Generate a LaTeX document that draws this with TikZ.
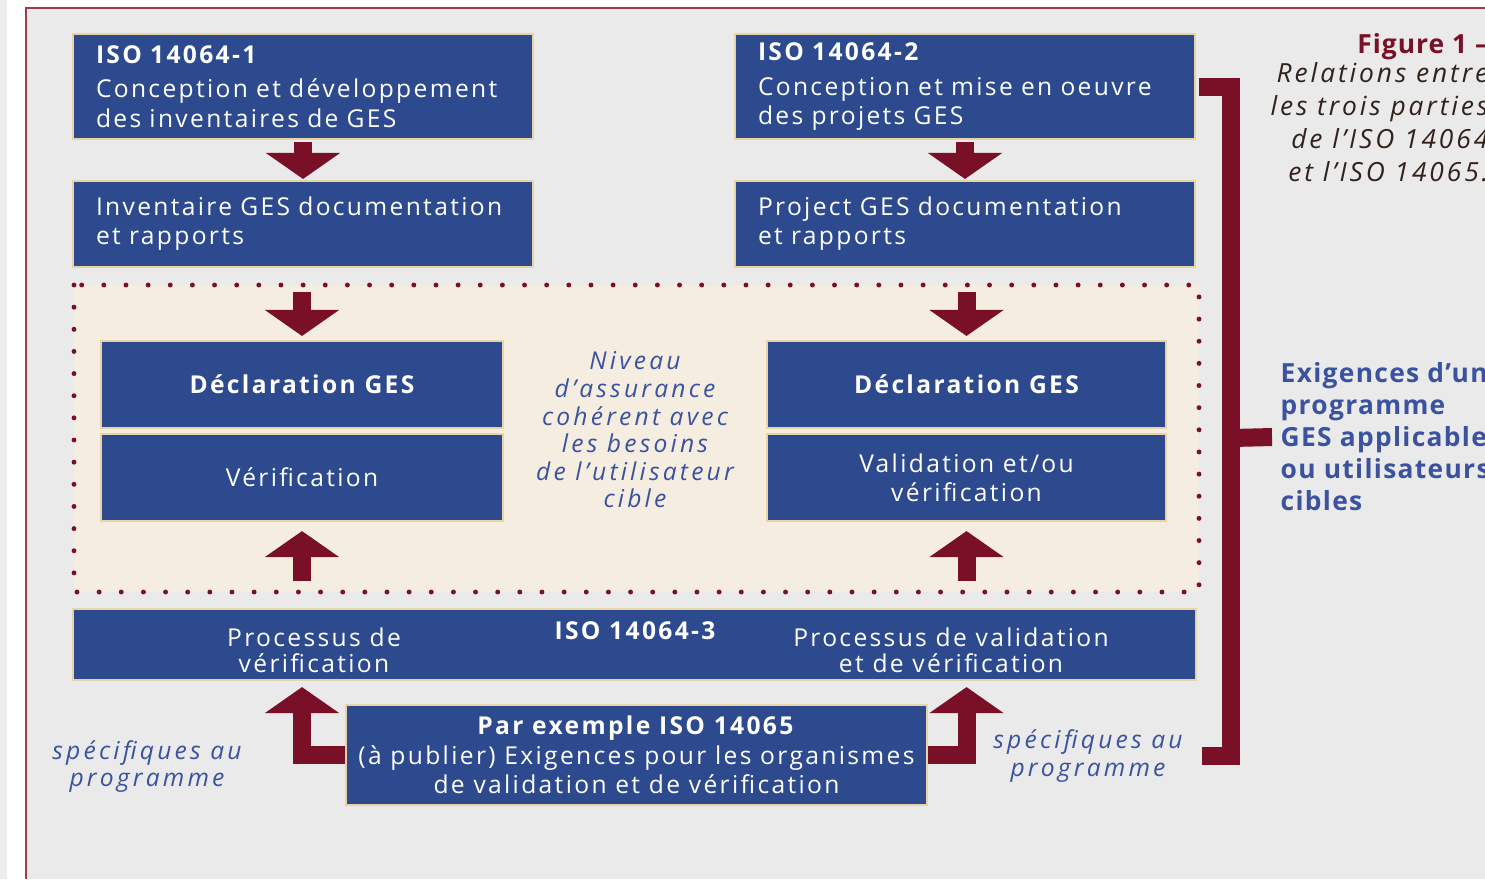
\documentclass[tikz,border=0pt]{standalone}
\usepackage{fontspec}
\setmainfont{Open Sans}[LetterSpace=9.5]
\usetikzlibrary{arrows.meta}

\definecolor{isoblau}{RGB}{45,74,143}
\definecolor{kastenrand}{RGB}{230,212,166}
\definecolor{dunkelrot}{RGB}{122,16,40}
\definecolor{hintergrund}{RGB}{233,234,233}
\definecolor{creme}{RGB}{245,238,224}
\definecolor{textblau}{RGB}{58,82,160}
\definecolor{rahmenrot}{RGB}{160,60,75}
\definecolor{legende}{RGB}{50,34,28}

\tikzset{
  kasten/.style={draw=kastenrand, line width=0.6pt, fill=isoblau, text=white,
    inner sep=0pt, font=\fontsize{7}{8.3}\selectfont},
  links/.style={kasten, align=left, inner xsep=0.23cm, text width=4.14cm},
  mitte/.style={kasten, align=center, minimum width=4.02cm, minimum height=0.87cm},
  beschrift/.style={text=white, inner sep=0pt, align=center, font=\fontsize{7}{7.4}\selectfont},
  hinweis/.style={text=textblau, inner sep=0pt, align=center,
    font=\fontsize{7}{7.85}\selectfont\itshape\addfontfeature{LetterSpace=13}},
  pfeil/.style={draw=dunkelrot, line width=0.18cm, line cap=butt, line join=miter,
    -{Triangle[length=0.26cm, width=0.73cm]}},
  klammer/.style={draw=dunkelrot, line width=0.18cm, line cap=butt, line join=miter},
  bereich/.style={fill=creme, draw=dunkelrot, line width=1.4pt, line cap=round,
    dash pattern=on 0pt off 6.3pt}
}

\begin{document}
\begin{tikzpicture}
  \useasboundingbox (0,0) rectangle (14.85,-8.79);

  % Hintergrund und Rahmen
  \fill[white] (0,0) rectangle (14.85,-8.79);
  \fill[black!7] (0,0) rectangle (0.07,-8.79);
  \fill[hintergrund] (0.26,-0.08) rectangle (14.85,-8.79);
  \draw[rahmenrot, line width=0.8pt] (0.26,-8.79) -- (0.26,-0.08) -- (14.85,-0.08);

  % Bereich Niveau d'assurance
  \path[bereich] (0.74,-2.85) rectangle (11.99,-5.92);
  \coordinate (zoneoben) at (6.365,-2.85);
  \coordinate (zoneunten) at (6.365,-5.92);

  % ISO 14064-1 und 14064-2
  \node[links, minimum height=1.05cm] (iso1) at (3.03,-0.865)
    {\textbf{ISO 14064-1}\\[1.5pt] Conception et développement\\ des inventaires de GES};
  \node[links, minimum height=1.05cm] (iso2) at (9.65,-0.865)
    {\textbf{ISO 14064-2}\\[1.5pt] Conception et mise en oeuvre\\ des projets GES};
  \node[links, minimum height=0.86cm] (inv) at (3.03,-2.24)
    {Inventaire GES documentation\\ et rapports};
  \node[links, minimum height=0.86cm] (proj) at (9.65,-2.24)
    {Project GES documentation\\ et rapports};

  % Declarations
  \node[mitte] (decl1) at (3.02,-3.845) {\bfseries Déclaration GES};
  \node[mitte] (ver1) at (3.02,-4.775) {Vérification};
  \node[mitte, minimum width=3.99cm] (decl2) at (9.665,-3.845) {\bfseries Déclaration GES};
  \node[mitte, minimum width=3.99cm, font=\fontsize{7}{8.2}\selectfont] (val2) at (9.665,-4.775)
    {Validation et/ou\\ vérification};
  \node[hinweis] (niveau) at (6.35,-4.30)
    {Niveau\\ d’assurance\\ cohérent avec\\ les besoins\\ de l’utilisateur\\ cible};

  % ISO 14064-3
  \node[kasten, minimum width=11.23cm, minimum height=0.71cm] (iso3) at (6.345,-6.445) {};
  \node[beschrift] (proz1) at (3.14,-6.50) {Processus de\\ vérification};
  \node[beschrift, font=\fontsize{7}{7.4}\selectfont\bfseries] (titel3) at (6.35,-6.31) {ISO 14064-3};
  \node[beschrift] (proz2) at (9.51,-6.50) {Processus de validation\\ et de vérification};

  % ISO 14065
  \node[kasten, align=center, minimum width=5.81cm, minimum height=1.0cm,
    font=\fontsize{7}{8.4}\selectfont] (iso65) at (6.365,-7.55)
    {\textbf{Par exemple ISO 14065}\\ (à publier) Exigences pour les organismes\\ de validation et de vérification};
  \node[hinweis] (spec1) at (1.47,-7.665) {spécifiques au\\ programme};
  \node[hinweis] (spec2) at (10.88,-7.56) {spécifiques au\\ programme};

  % Legende rechts
  \node[anchor=north east, inner sep=0pt, align=right, text=legende,
    font=\fontsize{7.5}{9.4}\selectfont\itshape\addfontfeature{LetterSpace=11}] (legende) at (14.89,-0.33)
    {\textcolor{dunkelrot}{\upshape\bfseries\addfontfeature{LetterSpace=4}Figure 1 –}\\[-1.2pt]
     Relations entre\\ les trois parties\\ de l’ISO 14064\\ et l’ISO 14065.};
  \node[anchor=west, inner sep=0.08cm, align=left, text=textblau,
    font=\fontsize{7.5}{9.1}\selectfont\bfseries\addfontfeature{LetterSpace=5}] (exig) at (12.72,-4.37)
    {Exigences d’un\\ programme\\ GES applicables\\ ou utilisateurs\\ cibles};

  % Pfeile
  \draw[pfeil, shorten <=0.02cm, shorten >=0.01cm] (iso1) -- (inv);
  \draw[pfeil, shorten <=0.02cm, shorten >=0.01cm] (iso2) -- (proj);
  \draw[pfeil, shorten <=0.07cm, shorten >=0.04cm] (zoneoben -| decl1) -- (decl1);
  \draw[pfeil, shorten <=0.07cm, shorten >=0.04cm] (zoneoben -| decl2) -- (decl2);
  \draw[pfeil, shorten <=0.11cm, shorten >=0.09cm] (zoneunten -| ver1) -- (ver1);
  \draw[pfeil, shorten <=0.11cm, shorten >=0.09cm] (zoneunten -| val2) -- (val2);
  \draw[pfeil, shorten >=0.06cm] (iso65.west) -| (iso3.south -| ver1);
  \draw[pfeil, shorten >=0.06cm] (iso65.east) -| (iso3.south -| val2);

  % Klammer
  \coordinate (knick) at (12.31,-4.38);
  \coordinate (klammerende) at (12.02,-7.555);
  \draw[klammer] ([xshift=0.03cm]iso2.east) -| (knick) |- (klammerende);
  \draw[klammer] (knick) -- (exig.west);
\end{tikzpicture}
\end{document}
